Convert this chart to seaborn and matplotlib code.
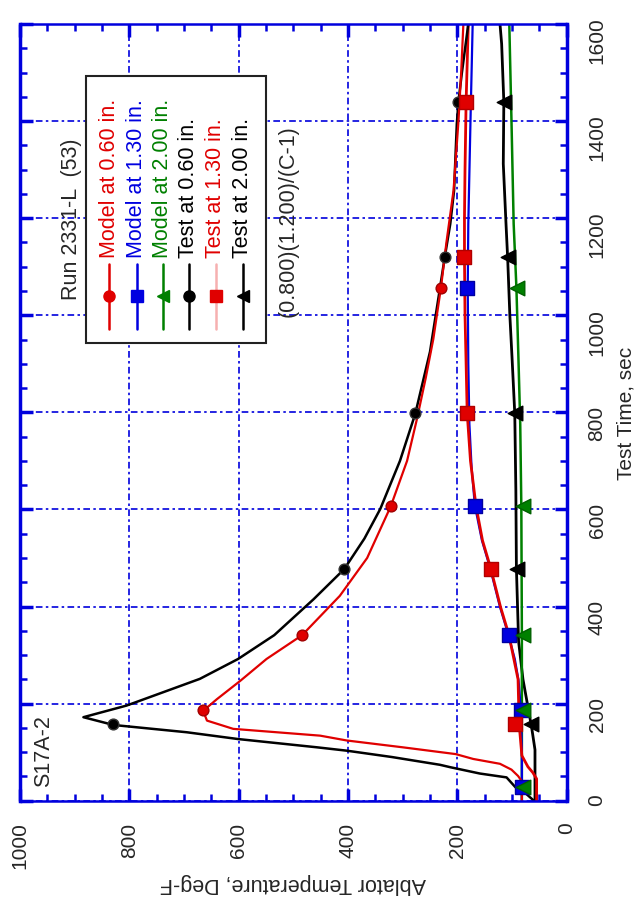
import matplotlib
matplotlib.use("Agg")
import matplotlib.pyplot as plt
import seaborn as sns
from matplotlib.patches import Rectangle

model060_time = [0, 40, 51, 64, 76, 86, 96, 110, 124, 134, 148, 165, 185, 209, 247, 292, 341,
                 422, 500, 606, 700, 786, 870, 951, 1057, 1150, 1257, 1400, 1500, 1600]
model060_temp = [82, 82, 89, 101, 122, 171, 203, 300, 402, 451, 610, 658, 665, 640, 597, 549, 484,
                 415, 365, 322, 292, 274, 258, 244, 230, 220, 207, 198, 193, 189]

model130_time = [0, 100, 190, 247, 292, 343, 399, 479, 536, 608, 687, 776, 900, 1057, 1188, 1400, 1600]
model130_temp = [82, 82, 84, 88, 95, 107, 122, 140, 155, 168, 174, 178, 180, 181, 180, 176, 172]

model200_time = [0, 200, 343, 607, 776, 900, 1057, 1188, 1400, 1600]
model200_temp = [82, 82, 82, 83, 85, 88, 92, 97, 101, 105]

test060_time = [0, 15, 28, 48, 56, 69, 74, 90, 103, 110, 127, 141, 156, 172, 196, 251, 292, 341,
                415, 477, 540, 601, 700, 797, 925, 1033, 1120, 1188, 1257, 1394, 1440, 1497, 1600]
test060_temp = [60, 75, 94, 110, 159, 213, 232, 320, 402, 457, 601, 695, 829, 884, 805, 671, 601, 535,
                463, 407, 370, 341, 305, 277, 250, 235, 223, 213, 206, 201, 198, 192, 180]

test130_time = [0, 45, 58, 70, 93, 158, 250, 343, 399, 479, 536, 608, 700, 798, 900, 1000, 1119,
                1200, 1300, 1440, 1520, 1600]
test130_temp = [55, 55, 62, 71, 82, 87, 89, 106, 121, 139, 154, 166, 176, 182, 184, 186, 187,
                187, 186, 184, 182, 180]

test200_time = [0, 105, 150, 200, 250, 328, 479, 640, 798, 913, 1000, 1118, 1188, 1312, 1440, 1559, 1600]
test200_temp = [58, 58, 64, 72, 80, 88, 92, 93, 95, 100, 104, 108, 111, 116, 115, 119, 122]

# marker samples
model_mark_time = [28, 187, 342, 607, 1057]
model060_mark = [82, 665, 484, 322, 230]
model130_mark = [82, 83, 106, 168, 182]
model200_mark = [80, 80, 80, 80, 91]

test_mark_time = [158, 478, 798, 1119, 1440]
test060_mark = [829, 407, 277, 223, 198]
test130_mark = [94, 139, 183, 188, 184]
test200_mark = [65, 91, 94, 108, 115]

legend_labels = ['Model at 0.60 in.', 'Model at 1.30 in.', 'Model at 2.00 in.',
                 'Test at 0.60 in.', 'Test at 1.30 in.', 'Test at 2.00 in.']

RED = '#e00000'
BLUE = '#0000e0'
GREEN = '#008000'
BLACK = '#000000'
AXBLUE = '#0000dd'

sns.set_theme(style="white")
plt.rcParams['font.family'] = ['Liberation Sans', 'DejaVu Sans']

fig = plt.figure(figsize=(6.4, 9.12), dpi=100)
# chart is drawn turned a quarter turn: temperature runs horizontally (reversed), time vertically
ax = fig.add_axes([20 / 640, (912 - 801.7) / 912, 546.7 / 640, 776.7 / 912])

# lines
sns.lineplot(x=test200_temp, y=test200_time, sort=False, estimator=None, color=BLACK, linewidth=2.0, ax=ax)
sns.lineplot(x=model200_temp, y=model200_time, sort=False, estimator=None, color=GREEN, linewidth=1.8, ax=ax)
sns.lineplot(x=model130_temp, y=model130_time, sort=False, estimator=None, color=BLUE, linewidth=1.6, ax=ax)
sns.lineplot(x=test130_temp, y=test130_time, sort=False, estimator=None, color=RED, linewidth=2.0, ax=ax)
sns.lineplot(x=test060_temp, y=test060_time, sort=False, estimator=None, color=BLACK, linewidth=1.8, ax=ax)
sns.lineplot(x=model060_temp, y=model060_time, sort=False, estimator=None, color=RED, linewidth=1.6, ax=ax)

# markers
sns.scatterplot(x=model060_mark, y=model_mark_time, marker='o', s=60, color=RED, edgecolor='#a00000', linewidth=1, zorder=4, ax=ax)
sns.scatterplot(x=test060_mark, y=test_mark_time, marker='o', s=60, color=BLACK, edgecolor='#333333', linewidth=1, zorder=4, ax=ax)
sns.scatterplot(x=model130_mark, y=model_mark_time, marker='s', s=90, color=BLUE, edgecolor='#0000a0', linewidth=1, zorder=4, ax=ax)
sns.scatterplot(x=model200_mark, y=model_mark_time, marker='<', s=110, color=GREEN, edgecolor='#006000', linewidth=1, zorder=5, ax=ax)
sns.scatterplot(x=test130_mark, y=test_mark_time, marker='s', s=90, color=RED, edgecolor='#b00000', linewidth=1, zorder=5, ax=ax)
sns.scatterplot(x=test200_mark, y=test_mark_time, marker='<', s=110, color=BLACK, edgecolor=BLACK, linewidth=1, zorder=5, ax=ax)

ax.set_xlim(1000, 0)
ax.set_ylim(0, 1600)
ax.set_xticks(range(0, 1001, 200))
ax.set_xticks(range(0, 1001, 50), minor=True)
ax.set_yticks(range(0, 1601, 200))
ax.set_yticks(range(0, 1601, 50), minor=True)

ax.grid(True, which='major', color=AXBLUE, linestyle=(0, (4, 2, 1.5, 2)), linewidth=1.2)
ax.tick_params(which='major', direction='in', length=9, width=2.5, color=AXBLUE,
               top=True, bottom=True, left=True, right=True,
               labelleft=False, labelright=True, labelsize=15, pad=15)
ax.tick_params(which='minor', direction='in', length=5, width=1.8, color=AXBLUE,
               top=True, bottom=True, left=True, right=True)
ax.tick_params(axis='x', labelrotation=90)
ax.tick_params(axis='y', labelrotation=90)

for side in ['left', 'right']:
    ax.spines[side].set_color(AXBLUE)
    ax.spines[side].set_linewidth(2.5)
for side in ['top', 'bottom']:
    ax.spines[side].set_color(AXBLUE)
    ax.spines[side].set_linewidth(1.8)
    ax.spines[side].set_linestyle((0, (2, 1)))

ax.set_xlabel('Ablator Temperature, Deg-F', fontsize=15.5, rotation=180)
ax.xaxis.set_label_coords(0.5, -0.092)
ax.yaxis.set_label_position('right')
ax.set_ylabel('Test Time, sec', fontsize=15)
ax.yaxis.set_label_coords(1.092, 0.5)

# annotations
ax.text(0.0439, 0.019, 'S17A-2', rotation=90, ha='center', va='bottom', fontsize=15.5, transform=ax.transAxes)
ax.text(0.0933, 0.646, 'Run 2331-L  (53)', rotation=90, ha='center', va='bottom', fontsize=15.5, transform=ax.transAxes)
ax.text(0.490, 0.624, '(0.800)(1.200)/(C-1)', rotation=90, ha='center', va='bottom', fontsize=15.5, transform=ax.transAxes)

# hand-built legend (turned with the chart)
ax.add_patch(Rectangle((0.1207, 0.589), 0.3293, 0.344, transform=ax.transAxes,
                       facecolor='white', edgecolor='#222222', linewidth=1.5, zorder=6))
leg_x = [0.1628, 0.2140, 0.2615, 0.3091, 0.3585, 0.4079]
leg_line = [RED, BLUE, GREEN, BLACK, '#f6b0b0', BLACK]
leg_text = [RED, BLUE, GREEN, BLACK, RED, BLACK]
leg_marker = ['o', 's', '<', 'o', 's', '<']
leg_face = [RED, BLUE, GREEN, BLACK, RED, BLACK]
leg_size = [8, 9, 9, 8, 9, 9]
for x, lc, tc, m, fc, ms, lab in zip(leg_x, leg_line, leg_text, leg_marker, leg_face, leg_size, legend_labels):
    ax.plot([x, x], [0.607, 0.691], color=lc, linewidth=1.8, transform=ax.transAxes, zorder=7)
    ax.plot([x], [0.650], marker=m, markersize=ms, markerfacecolor=fc, markeredgecolor=fc,
            linestyle='none', transform=ax.transAxes, zorder=8)
    ax.text(x, 0.700, lab, color=tc, rotation=90, ha='center', va='bottom', fontsize=15.5,
            transform=ax.transAxes, zorder=8)

fig.savefig('out.png', dpi=100)
